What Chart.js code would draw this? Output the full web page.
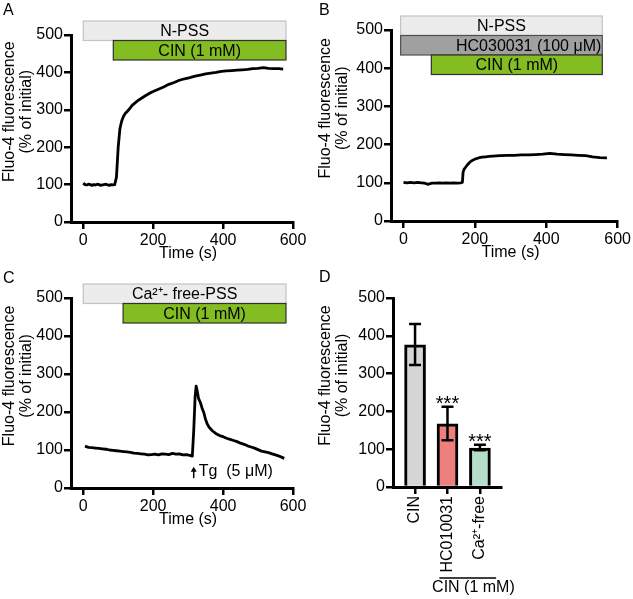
<!DOCTYPE html>
<html>
<head>
<meta charset="utf-8">
<script src="https://cdn.jsdelivr.net/npm/chart.js@4.4.1/dist/chart.umd.min.js"></script>
<style>
  body { margin: 0; background: #fff; }
  #wrap { position: relative; width: 633px; height: 599px; }
  canvas { position: absolute; }
</style>
</head>
<body>
<div id="wrap">
  <canvas id="panelA" width="316" height="285" style="left:0;top:0"></canvas>
  <canvas id="panelB" width="317" height="285" style="left:316px;top:0"></canvas>
  <canvas id="panelC" width="316" height="270" style="left:0;top:265px"></canvas>
  <canvas id="panelD" width="317" height="334" style="left:316px;top:265px"></canvas>
</div>
<script>
// data

const xTicks = [0, 200, 400, 600];
const yTicks = [0, 100, 200, 300, 400, 500];

// A: N-PSS, CIN added
const timeA = [0, 5, 10, 15, 20, 25, 30, 35, 40, 45, 50, 55, 60, 65, 70, 75, 80, 85, 90, 95,
  100, 105, 110, 115, 120, 125, 130, 140, 150, 160, 170, 180, 190, 200, 215, 230, 245, 260, 275, 290,
  305, 320, 335, 350, 365, 380, 395, 410, 425, 440, 455, 470, 485, 500, 515, 530, 545, 560, 572];
const fluoA = [104, 100, 99, 101, 100, 98, 100, 99, 101, 100, 98, 99, 100, 101, 99, 98, 100, 99, 100, 120,
  200, 250, 270, 282, 290, 295, 300, 312, 320, 327, 333, 339, 344, 349, 355, 361, 368, 373, 379, 383,
  386, 390, 393, 396, 398, 400, 403, 404, 405, 406, 407, 408, 410, 411, 413, 411, 410, 410, 409];

// B: HC030031 pre-treatment, CIN added
const timeB = [0, 10, 20, 30, 40, 50, 60, 65, 70, 75, 80, 90, 100, 110, 120, 130, 140, 150, 160, 165,
  167, 170, 175, 180, 185, 190, 200, 210, 220, 230, 240, 250, 270, 290, 310, 330, 350, 370, 390, 410,
  430, 450, 470, 490, 510, 530, 550, 570];
const fluoB = [101, 100, 101, 100, 101, 100, 99, 97, 96, 98, 99, 99, 100, 99, 100, 99, 100, 99, 100, 101,
  128, 136, 142, 148, 153, 157, 162, 165, 167, 168, 169, 170, 171, 172, 172, 173, 173, 174, 175, 177,
  175, 174, 173, 172, 171, 168, 166, 165];

// C: Ca2+-free PSS, Tg then CIN
const timeC = [5, 15, 25, 35, 45, 55, 65, 75, 85, 95, 105, 115, 125, 135, 145, 155, 165, 175, 185, 195,
  205, 215, 225, 235, 245, 255, 265, 275, 285, 295, 305, 312, 316, 320, 323, 326, 330, 335, 340, 345,
  350, 355, 360, 370, 380, 390, 400, 410, 420, 430, 440, 450, 460, 470, 480, 490, 500, 510, 520, 530,
  540, 550, 560, 570, 575];
const fluoC = [110, 107, 106, 105, 104, 103, 102, 100, 99, 98, 97, 96, 95, 94, 92, 91, 90, 89, 87, 88,
  89, 87, 90, 89, 88, 91, 89, 90, 87, 88, 86, 84, 150, 240, 268, 255, 235, 225, 210, 198,
  180, 168, 160, 150, 143, 138, 135, 131, 128, 125, 122, 118, 115, 111, 108, 105, 101, 97, 95, 93,
  90, 87, 84, 80, 78];

// treatment bars (start / end in s)
const boxLabelsA = ['N-PSS', 'CIN (1 mM)'];
const boxStartA = [0, 86];
const boxEndA = [580, 580];
const boxLabelsB = ['N-PSS', 'HC030031 (100 μM)', 'CIN (1 mM)'];
const boxStartB = [-8, -8, 78];
const boxEndB = [557, 557, 557];
const boxLabelsC = ['Ca²⁺- free-PSS', 'CIN (1 mM)'];
const boxStartC = [0, 114];
const boxEndC = [580, 580];

// D: summary bars
const groups = ['CIN', 'HC010031', 'Ca²⁺-free'];
const means = [376, 167, 103];
const errLow = [323, 124, 97];
const errHigh = [431, 212, 112];
const stars = ['', '***', '***'];

// styles

const boxStyle = {
  'N-PSS': ['#ececec', '#c4c4c4'],
  'Ca²⁺- free-PSS': ['#ececec', '#c4c4c4'],
  'HC030031 (100 μM)': ['#a0a0a0', '#505050'],
  'CIN (1 mM)': ['#84bd22', '#303030']
};
const barColors = ['#d6d6d6', '#ef7f7f', '#b4dec9'];
const FONT = '"Liberation Sans", Arial, sans-serif';

Chart.defaults.font.family = FONT;
Chart.defaults.font.size = 16;
Chart.defaults.color = '#000';

function axisStyle() {
  return {
    border: { display: true, color: '#000', width: 3 },
    grid: { display: true, offset: false, drawOnChartArea: false, drawTicks: true, tickLength: 7, color: '#000', lineWidth: 2.5 }
  };
}

function drawYTitle(chart) {
  const ctx = chart.ctx;
  const a = chart.chartArea;
  const cy = a.top + (a.bottom - a.top) * 0.41;
  ctx.save();
  ctx.font = '16px ' + FONT;
  ctx.fillStyle = '#000';
  ctx.textAlign = 'center';
  ctx.textBaseline = 'middle';
  [['Fluo-4 fluorescence', 10], ['(% of initial)', 27]].forEach(([t, x]) => {
    ctx.save();
    ctx.translate(x, cy);
    ctx.rotate(-Math.PI / 2);
    ctx.fillText(t, 0, 0);
    ctx.restore();
  });
  ctx.restore();
}

function drawLetter(chart, letter, y) {
  const ctx = chart.ctx;
  ctx.save();
  ctx.font = '16px ' + FONT;
  ctx.fillStyle = '#000';
  ctx.textAlign = 'left';
  ctx.textBaseline = 'alphabetic';
  ctx.fillText(letter, 3, y);
  ctx.restore();
}

function drawBoxes(chart, labels, starts, ends) {
  const ctx = chart.ctx;
  const a = chart.chartArea;
  const xs = chart.scales.x;
  ctx.save();
  ctx.font = '16px ' + FONT;
  ctx.textBaseline = 'middle';
  labels.forEach((lab, i) => {
    const x0 = xs.getPixelForValue(starts[i]);
    const x1 = xs.getPixelForValue(ends[i]);
    const top = a.top - 14 + i * 19.5;
    const h = 19.5;
    ctx.fillStyle = boxStyle[lab][0];
    ctx.strokeStyle = boxStyle[lab][1];
    ctx.lineWidth = 1.2;
    ctx.fillRect(x0, top, x1 - x0, h);
    ctx.strokeRect(x0, top, x1 - x0, h);
    ctx.fillStyle = '#000';
    if (lab.startsWith('HC')) {
      ctx.textAlign = 'right';
      ctx.fillText(lab, x1 - 1, top + h / 2 + 1);
    } else {
      ctx.textAlign = 'center';
      ctx.fillText(lab, (x0 + x1) / 2, top + h / 2 + 1);
    }
  });
  ctx.restore();
}

function drawTimeTitle(chart) {
  const ctx = chart.ctx;
  ctx.save();
  ctx.font = '16px ' + FONT;
  ctx.fillStyle = '#000';
  ctx.textAlign = 'center';
  ctx.textBaseline = 'middle';
  ctx.fillText('Time (s)', chart.scales.x.getPixelForValue(300), chart.chartArea.bottom + 32);
  ctx.restore();
}

function makeTrace(id, letter, letterY, times, values, boxes, pad, yWidth, xHeight, extra) {
  return new Chart(document.getElementById(id), {
    type: 'line',
    data: {
      datasets: [{
        data: times.map((t, i) => ({ x: t, y: values[i] })),
        borderColor: '#000',
        borderWidth: 2.8,
        borderJoinStyle: 'round',
        pointRadius: 0,
        tension: 0,
        fill: false
      }]
    },
    options: {
      responsive: false,
      animation: false,
      events: [],
      layout: { padding: { top: pad.top, right: pad.right, left: 0, bottom: 0 } },
      plugins: { legend: { display: false }, tooltip: { enabled: false } },
      scales: {
        x: {
          type: 'linear', min: -35, max: 600,
          afterBuildTicks: s => { s.ticks = xTicks.map(v => ({ value: v })); },
          afterFit: s => { s.height = xHeight; },
          ticks: { padding: 2, maxRotation: 0 },
          ...axisStyle()
        },
        y: {
          min: 0, max: 500,
          afterBuildTicks: s => { s.ticks = yTicks.map(v => ({ value: v })); },
          afterFit: s => { s.width = yWidth; },
          ticks: { padding: 1 },
          ...axisStyle()
        }
      }
    },
    plugins: [{
      id: 'deco',
      afterDraw(chart) {
        drawYTitle(chart);
        drawLetter(chart, letter, letterY);
        drawBoxes(chart, boxes[0], boxes[1], boxes[2]);
        drawTimeTitle(chart);
        if (extra) extra(chart);
      }
    }]
  });
}

makeTrace('panelA', 'A', 15, timeA, fluoA, [boxLabelsA, boxStartA, boxEndA], { top: 35, right: 23 }, 71, 63);
makeTrace('panelB', 'B', 15, timeB, fluoB, [boxLabelsB, boxStartB, boxEndB], { top: 30, right: 14 }, 75, 64);
makeTrace('panelC', 'C', 18, timeC, fluoC, [boxLabelsC, boxStartC, boxEndC], { top: 33, right: 23 }, 71, 47, chart => {
  // Tg arrow
  const ctx = chart.ctx;
  const x = chart.scales.x.getPixelForValue(316);
  const yTop = chart.scales.y.getPixelForValue(56);
  const yBot = chart.scales.y.getPixelForValue(26);
  ctx.save();
  ctx.strokeStyle = '#000';
  ctx.fillStyle = '#000';
  ctx.lineWidth = 1.5;
  ctx.beginPath();
  ctx.moveTo(x, yBot);
  ctx.lineTo(x, yTop + 3);
  ctx.stroke();
  ctx.beginPath();
  ctx.moveTo(x, yTop);
  ctx.lineTo(x - 3, yTop + 5);
  ctx.lineTo(x + 3, yTop + 5);
  ctx.closePath();
  ctx.fill();
  ctx.font = '16px ' + FONT;
  ctx.textAlign = 'left';
  ctx.textBaseline = 'middle';
  ctx.fillText('Tg  (5 μM)', x + 5, chart.scales.y.getPixelForValue(42));
  ctx.restore();
});

new Chart(document.getElementById('panelD'), {
  type: 'bar',
  data: {
    datasets: [{
      data: means.map((m, i) => ({ x: i + 1, y: m })),
      backgroundColor: barColors,
      borderColor: '#000',
      borderWidth: 3,
      barThickness: 21
    }]
  },
  options: {
    responsive: false,
    animation: false,
    events: [],
    layout: { padding: { top: 33, right: 132, left: 0, bottom: 0 } },
    plugins: { legend: { display: false }, tooltip: { enabled: false } },
    scales: {
      x: {
        type: 'linear', min: 0.32, max: 3.65, offset: false,
        afterBuildTicks: s => { s.ticks = groups.map((g, i) => ({ value: i + 1 })); },
        afterFit: s => { s.height = 112; },
        ticks: { callback: (v, i) => groups[i], minRotation: 90, maxRotation: 90, autoSkip: false, padding: 2 },
        ...axisStyle()
      },
      y: {
        min: 0, max: 500,
        afterBuildTicks: s => { s.ticks = yTicks.map(v => ({ value: v })); },
        afterFit: s => { s.width = 77; },
        ticks: { padding: 1 },
        ...axisStyle()
      }
    }
  },
  plugins: [{
    id: 'errbars',
    afterDatasetsDraw(chart) {
      const ctx = chart.ctx;
      const xs = chart.scales.x, ys = chart.scales.y;
      ctx.save();
      ctx.strokeStyle = '#000';
      ctx.lineWidth = 2.5;
      groups.forEach((g, i) => {
        const x = xs.getPixelForValue(i + 1);
        const hi = ys.getPixelForValue(errHigh[i]);
        const lo = ys.getPixelForValue(errLow[i]);
        ctx.beginPath();
        ctx.moveTo(x, hi); ctx.lineTo(x, lo);
        ctx.moveTo(x - 6, hi); ctx.lineTo(x + 6, hi);
        ctx.moveTo(x - 6, lo); ctx.lineTo(x + 6, lo);
        ctx.stroke();
        if (stars[i]) {
          ctx.font = '20px ' + FONT;
          ctx.fillStyle = '#000';
          ctx.textAlign = 'center';
          ctx.textBaseline = 'alphabetic';
          ctx.fillText(stars[i], x, hi + 3);
        }
      });
      ctx.restore();
    },
    afterDraw(chart) {
      drawYTitle(chart);
      drawLetter(chart, 'D', 17);
      const ctx = chart.ctx;
      const xs = chart.scales.x;
      const b = chart.chartArea.bottom;
      ctx.save();
      ctx.strokeStyle = '#000';
      ctx.lineWidth = 1.5;
      ctx.beginPath();
      ctx.moveTo(xs.getPixelForValue(1.75), b + 91);
      ctx.lineTo(xs.getPixelForValue(3.5), b + 91);
      ctx.stroke();
      ctx.font = '16px ' + FONT;
      ctx.fillStyle = '#000';
      ctx.textAlign = 'center';
      ctx.textBaseline = 'middle';
      ctx.fillText('CIN (1 mM)', xs.getPixelForValue(2.8), b + 101);
      ctx.restore();
    }
  }]
});
</script>
</body>
</html>
